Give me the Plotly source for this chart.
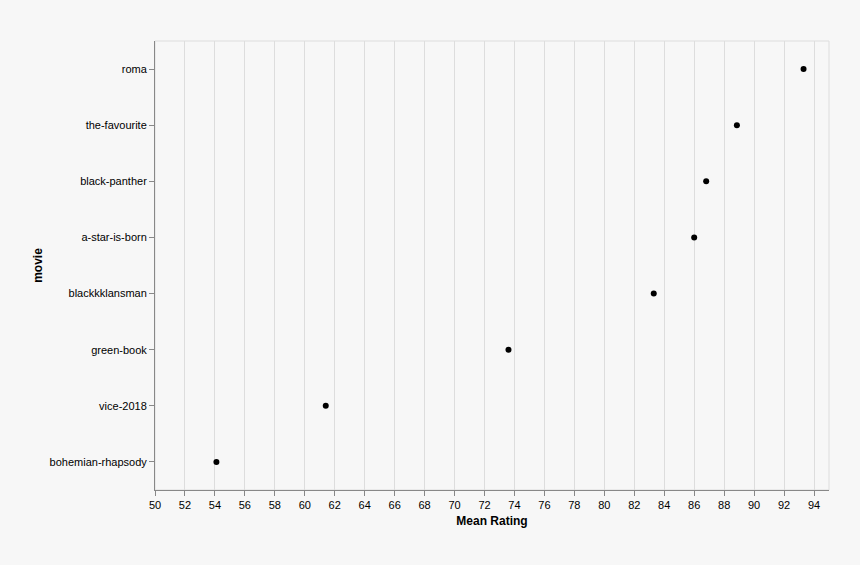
import plotly.graph_objects as go

movies = ["bohemian-rhapsody", "vice-2018", "green-book", "blackkklansman",
          "a-star-is-born", "black-panther", "the-favourite", "roma"]
mean_rating = [54.1, 61.4, 73.6, 83.3, 86.0, 86.8, 88.85, 93.3]
x_ticks = list(range(50, 96, 2))

fig = go.Figure()
fig.add_trace(go.Scatter(
    x=mean_rating, y=movies, mode="markers",
    marker=dict(color="black", size=6, line=dict(width=0)),
    hoverinfo="x+y", showlegend=False,
))

font = "Liberation Sans, Arial, Helvetica, sans-serif"
fig.update_layout(
    width=860, height=565,
    paper_bgcolor="#f7f7f7", plot_bgcolor="#f7f7f7",
    margin=dict(l=155, r=31, t=41, b=75),
    font=dict(family=font, size=11, color="#000"),
    shapes=[dict(type="rect", xref="paper", yref="paper", x0=0, y0=0, x1=1, y1=1,
                 line=dict(color="#dddddd", width=1), layer="below")],
    xaxis=dict(
        range=[50, 95], tickvals=x_ticks, ticktext=[str(v) for v in x_ticks],
        showgrid=True, gridcolor="#dddddd", gridwidth=1, zeroline=False,
        showline=True, linecolor="#888888", linewidth=1,
        ticks="outside", ticklen=5, tickcolor="#888888", tickwidth=1,
        tickfont=dict(size=11, family=font, color="#000"),
        title=dict(text="<b>Mean Rating</b>", font=dict(size=12, family=font), standoff=6),
    ),
    yaxis=dict(
        type="category", categoryorder="array", categoryarray=movies,
        range=[-0.5, 7.5], showgrid=False, zeroline=False,
        showline=True, linecolor="#888888", linewidth=1,
        ticks="outside", ticklen=5, tickcolor="#888888", tickwidth=1,
        tickfont=dict(size=11, family=font, color="#000"),
        title=dict(text="<b>movie</b>", font=dict(size=12, family=font), standoff=4),
    ),
)
fig.write_html(
    "out.html",
    config={"displayModeBar": False},
    post_script="document.body.style.margin='0';document.body.style.background='#f7f7f7';",
)
